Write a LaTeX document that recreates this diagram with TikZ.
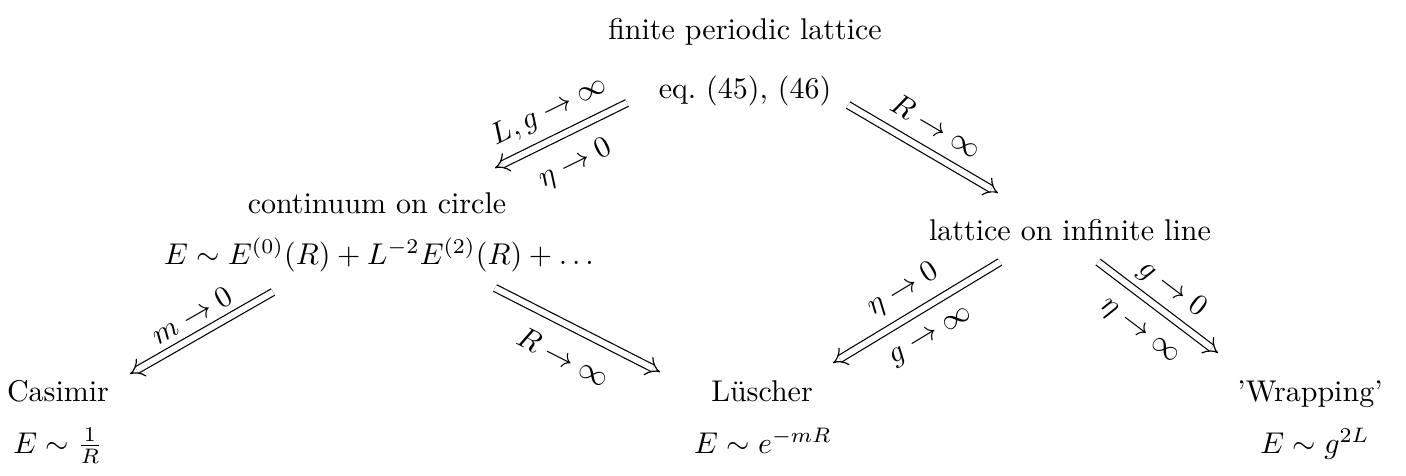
\documentclass[tikz,border=0pt]{standalone}
\usetikzlibrary{arrows.meta}
\begin{document}
\begin{tikzpicture}[x=0.33333pt,y=-0.33333pt,
  txt/.style={inner sep=0pt,anchor=base},
  imp/.style={double,double distance=2pt,line width=0.4pt,-{Implies}},
  lab/.style={sloped,midway}]
\useasboundingbox (0,0) rectangle (1406,475);
% nodes
\node[txt] (fpl) at (745,39) {finite periodic lattice};
\node[txt] (eq)  at (745,98) {eq.\ (45), (46)};
\node[txt] (coc) at (377,213) {continuum on circle};
\node[txt] (cof) at (379,264) {$E\sim E^{(0)}(R)+L^{-2}E^{(2)}(R)+\ldots$};
\node[txt] (lil) at (1070,240) {lattice on infinite line};
\node[txt] (cas) at (58,401) {Casimir};
\node[txt] (casf) at (58,453) {$E\sim\frac{1}{R}$};
\node[txt] (lus) at (762,401) {L\"uscher};
\node[txt] (lusf) at (763,453) {$E\sim e^{-mR}$};
\node[txt] (wra) at (1310,401) {'Wrapping'};
\node[txt] (wraf) at (1315,453) {$E\sim g^{2L}$};
% arrow ends
\coordinate (a1s) at (627,103); \coordinate (a1e) at (495,168);
\coordinate (a2s) at (848,105); \coordinate (a2e) at (998,193);
\coordinate (a3s) at (273,292); \coordinate (a3e) at (130,374);
\coordinate (a4s) at (495,288); \coordinate (a4e) at (660,372);
\coordinate (a5s) at (1000,262); \coordinate (a5e) at (833,363);
\coordinate (a6s) at (1098,262); \coordinate (a6e) at (1218,353);
% arrows
\draw[imp] (a1s) -- node[lab,above=1pt]{$L,g\to\infty$} node[lab,below=3pt]{$\eta\to0$} (a1e);
\draw[imp] (a2s) -- node[lab,above=2pt]{$R\to\infty$} (a2e);
\draw[imp] (a3s) -- node[lab,above=0pt]{$m\to0$} (a3e);
\draw[imp] (a4s) -- node[lab,below=3pt]{$R\to\infty$} (a4e);
\draw[imp] (a5s) -- node[lab,above=1pt]{$\eta\to0$} node[lab,below=3pt]{$g\to\infty$} (a5e);
\draw[imp] (a6s) -- node[lab,above=0pt]{$g\to0$} node[lab,below=4pt]{$\eta\to\infty$} (a6e);
\end{tikzpicture}
\end{document}
